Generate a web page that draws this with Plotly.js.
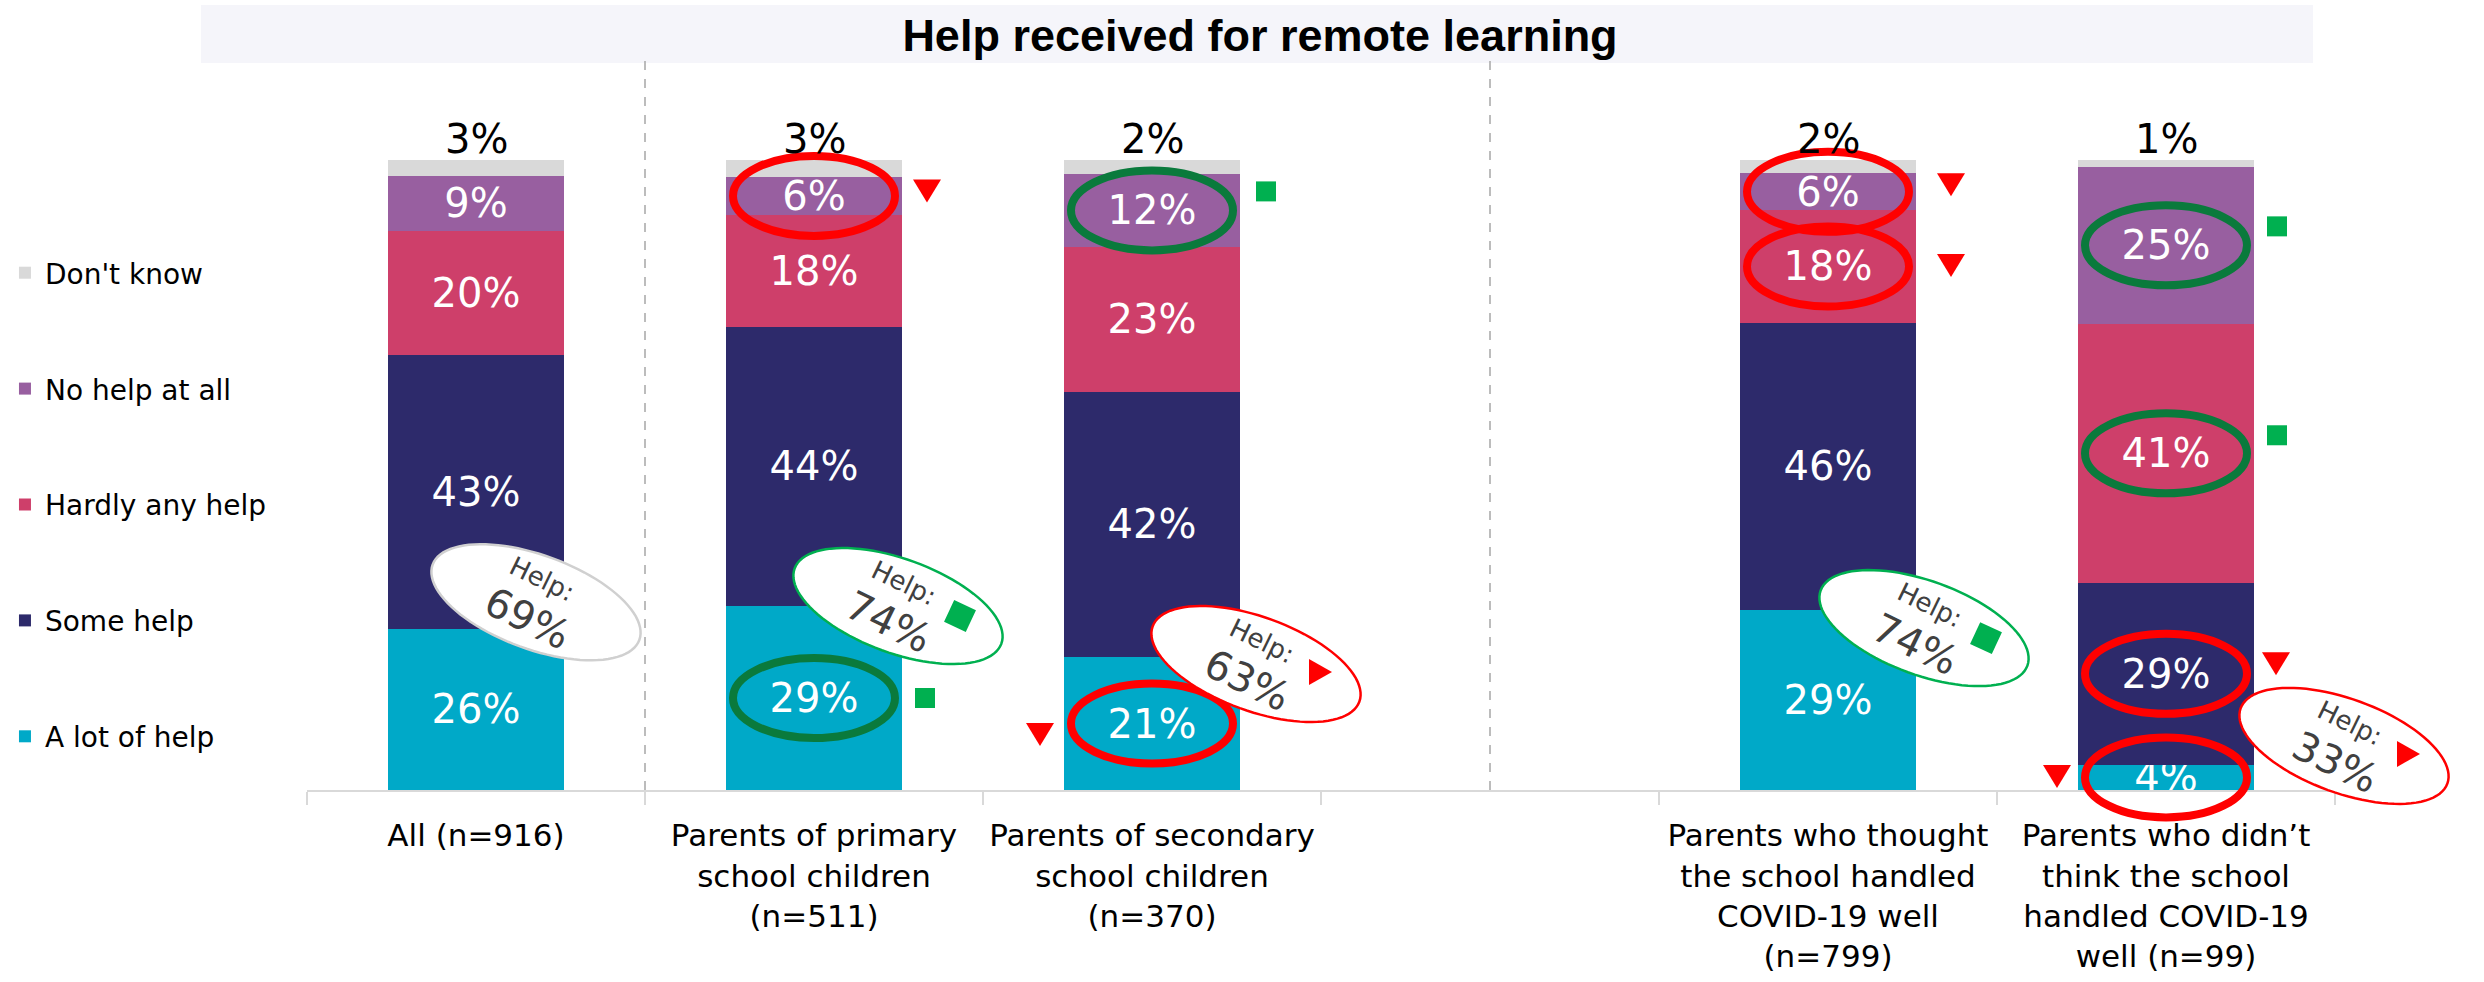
<!DOCTYPE html>
<html><head><meta charset="utf-8">
<script src="https://cdn.plot.ly/plotly-3.0.1.min.js"></script>
<style>html,body{margin:0;padding:0;background:#fff}#chart{width:2484px;height:982px}</style>
</head><body><div id="chart"></div>
<script>
// ---------------- DATA ----------------
const categories = [
  "All (n=916)",
  "Parents of primary<br>school children<br>(n=511)",
  "Parents of secondary<br>school children<br>(n=370)",
  " ",
  "Parents who thought<br>the school handled<br>COVID-19 well<br>(n=799)",
  "Parents who didn’t<br>think the school<br>handled COVID-19<br>well (n=99)"
];
const seriesNames = ["A lot of help", "Some help", "Hardly any help", "No help at all", "Don't know"];
const aLotOfHelp    = [25.6, 29.2, 21.1, null, 28.6, 4.0];
const someHelp      = [43.4, 44.3, 42.1, null, 45.6, 28.9];
const hardlyAnyHelp = [19.8, 17.8, 23.0, null, 17.8, 41.1];
const noHelpAtAll   = [8.6, 6.0, 11.6, null, 5.9, 24.9];
const dontKnow      = [2.6, 2.7, 2.2, null, 2.1, 1.1];

// "Help" (a lot + some) totals shown in the ellipses
const helpCats   = [0, 1, 2, 4, 5];
const helpTotals = [69, 74, 63, 74, 33];
const helpSig    = ["none", "higher", "lower", "higher", "lower"];

// significance flags (circled values)
const sigCat    = [1, 1, 2, 2, 4, 4, 5, 5, 5, 5];
const sigSeries = ["No help at all", "A lot of help", "No help at all", "A lot of help",
                   "No help at all", "Hardly any help", "No help at all", "Hardly any help",
                   "Some help", "A lot of help"];
const sigDir    = ["lower", "higher", "higher", "lower", "lower", "lower", "higher", "higher", "lower", "lower"];

// ---------------- PLACEMENT / STYLE ----------------
const seriesColors = ["#00A9C8", "#2D2A6B", "#CE3F6A", "#985FA0", "#D9D9D9"];
const helpDx    = [60, 84, 104, 96, 178];      // px from bar centre
const helpLevel = [29.8, 29.2, 20.0, 25.7, 7.0]; // y (axis units) of ellipse centre
const sigSide = [1, 1, 1, -1, 1, 1, 1, 1, 1, -1];
const sigDx   = [113, 111, 114, 112, 123, 123, 111, 111, 110, 109];
const sigDy   = [-5, 0, -19, 11, -7, -1, -19, -18, -10, -1];

const FONT = "'DejaVu Sans', sans-serif";
const L = 307, R = 149, T = 160, B = 192, WIDTH = 2484, HEIGHT = 982;
const W = WIDTH - L - R, H = HEIGHT - T - B;
const RED = "#FF0000", GREEN = "#00B050", DKGREEN = "#0A7A3C";
const nCat = categories.length;

const seriesValues = [aLotOfHelp, someHelp, hardlyAnyHelp, noHelpAtAll, dontKnow];

// ---------------- TRACES ----------------
const traces = seriesNames.map((name, i) => ({
  type: "bar",
  name: name,
  legendgroup: name,
  legendrank: 100 * (seriesNames.length - i),
  x: categories,
  y: seriesValues[i],
  marker: { color: seriesColors[i] },
  texttemplate: i < 4 ? "%{y:.0f}%" : "",
  textposition: i < 4 ? "inside" : "none",
  insidetextanchor: "middle",
  textangle: 0,
  constraintext: "none",
  textfont: { family: FONT, size: 40, color: "#FFFFFF" },
  hoverinfo: "skip"
}));

// ---------------- helpers ----------------
const catX = c => (c + 0.5) / nCat;          // paper x of bar centre
const valY = v => v / 100;                    // paper y of value (range 0..100)
function ellipsePath(cx, cy, a, b, thDeg) {
  const th = thDeg * Math.PI / 180;
  let p = "";
  for (let k = 0; k < 96; k++) {
    const f = 2 * Math.PI * k / 96;
    const x = a * Math.cos(f), y = b * Math.sin(f);
    const xr = x * Math.cos(th) - y * Math.sin(th);
    const yr = x * Math.sin(th) + y * Math.cos(th);
    p += (k ? "L" : "M") + (cx + xr / W).toFixed(5) + "," + (cy - yr / H).toFixed(5);
  }
  return p + "Z";
}
function polyPath(cx, cy, pts, thDeg) {
  const th = (thDeg || 0) * Math.PI / 180;
  return pts.map((q, k) => {
    const xr = q[0] * Math.cos(th) - q[1] * Math.sin(th);
    const yr = q[0] * Math.sin(th) + q[1] * Math.cos(th);
    return (k ? "L" : "M") + (cx + xr / W).toFixed(5) + "," + (cy - yr / H).toFixed(5);
  }).join("") + "Z";
}
const TRI_DOWN = [[-14, -11.5], [14, -11.5], [0, 11.5]];
const SQUARE = [[-10, -10], [10, -10], [10, 10], [-10, 10]];
const SQUARE_BIG = [[-12, -12], [12, -12], [12, 12], [-12, 12]];
const TRI_RIGHT = [[-11, -13], [12, 0], [-11, 13]];

const shapes = [];
const annotations = [];

// title band
shapes.push({ type: "rect", xref: "paper", yref: "paper", layer: "below",
  x0: (201 - L) / W, x1: (2313 - L) / W, y0: (T + H - 63) / H, y1: (T + H - 5) / H,
  fillcolor: "#F5F5FA", line: { width: 0 } });

// dashed separators
[0.5, 3].forEach(pos => shapes.push({ type: "line", xref: "paper", yref: "paper", layer: "below",
  x0: (pos + 0.5) / nCat, x1: (pos + 0.5) / nCat, y0: 0, y1: (T + H - 58) / H,
  line: { color: "#A6A6A6", width: 1.5, dash: "dash" } }));

// top labels (Don't know)
categories.forEach((c, i) => {
  if (dontKnow[i] == null) return;
  const total = seriesValues.reduce((s, arr) => s + arr[i], 0);
  annotations.push({ x: c, y: total, xref: "x", yref: "y", showarrow: false,
    text: Math.round(dontKnow[i]) + "%", yanchor: "middle", yshift: 21,
    font: { family: FONT, size: 40, color: "#000000" } });
});

// circled significant values + markers
sigCat.forEach((c, k) => {
  const s = seriesNames.indexOf(sigSeries[k]);
  let below = 0;
  for (let j = 0; j < s; j++) below += seriesValues[j][c];
  const mid = below + seriesValues[s][c] / 2;
  const cx = catX(c), cy = valY(mid);
  const up = sigDir[k] === "higher";
  shapes.push({ type: "circle", xref: "paper", yref: "paper",
    x0: cx - 81 / W, x1: cx + 81 / W, y0: cy - 40 / H, y1: cy + 40 / H,
    line: { color: up ? DKGREEN : RED, width: 8 } });
  const mx = cx + sigSide[k] * sigDx[k] / W, my = cy - sigDy[k] / H;
  shapes.push({ type: "path", xref: "paper", yref: "paper",
    path: polyPath(mx, my, up ? SQUARE : TRI_DOWN, 0),
    fillcolor: up ? GREEN : RED, line: { width: 0 } });
});

// Help ellipses
helpCats.forEach((c, k) => {
  const cx = catX(c) + helpDx[k] / W, cy = valY(helpLevel[k]);
  const col = helpSig[k] === "higher" ? GREEN : helpSig[k] === "lower" ? RED : "#D0D0D0";
  shapes.push({ type: "path", xref: "paper", yref: "paper",
    path: ellipsePath(cx, cy, 110, 47, 20),
    fillcolor: "#FFFFFF", line: { color: col, width: 2.5 } });
  if (helpSig[k] === "higher") {
    shapes.push({ type: "path", xref: "paper", yref: "paper",
      path: polyPath(cx + 62 / W, cy - 10 / H, SQUARE_BIG, 25), fillcolor: GREEN, line: { width: 0 } });
  } else if (helpSig[k] === "lower") {
    shapes.push({ type: "path", xref: "paper", yref: "paper",
      path: polyPath(cx + 64 / W, cy - 8 / H, TRI_RIGHT, 0), fillcolor: RED, line: { width: 0 } });
  }
  annotations.push({ xref: "paper", yref: "paper", x: cx + 6 / W, y: cy + 23 / H,
    text: "Help:", showarrow: false, textangle: 26, xanchor: "center", yanchor: "middle",
    font: { family: FONT, size: 26, color: "#404040" } });
  annotations.push({ xref: "paper", yref: "paper", x: cx - 9 / W, y: cy - 16 / H,
    text: helpTotals[k] + "%", showarrow: false, textangle: 26, xanchor: "center", yanchor: "middle",
    font: { family: FONT, size: 40, color: "#404040" } });
});

const layout = {
  width: WIDTH, height: HEIGHT,
  margin: { l: L, r: R, t: T, b: B, autoexpand: false },
  paper_bgcolor: "#FFFFFF", plot_bgcolor: "#FFFFFF",
  barmode: "stack", bargap: 0.477,
  hovermode: false,
  title: { text: "<b>Help received for remote learning</b>",
    font: { family: "'Liberation Sans', Arial, sans-serif", size: 45, color: "#000000" },
    x: 1260 / WIDTH, xref: "container", xanchor: "center",
    y: 1 - 35 / HEIGHT, yref: "container", yanchor: "middle" },
  xaxis: { type: "category", categoryorder: "array", categoryarray: categories,
    range: [-0.5, nCat - 0.5], fixedrange: true,
    showline: true, linecolor: "#D9D9D9", linewidth: 2,
    ticks: "outside", tickson: "boundaries", ticklen: 13, tickcolor: "#D9D9D9", tickwidth: 2,
    tickangle: 0, ticklabelstandoff: 17,
    tickfont: { family: FONT, size: 31, color: "#000000" }, showgrid: false, zeroline: false },
  yaxis: { range: [0, 100], visible: false, fixedrange: true, showgrid: false, zeroline: false },
  showlegend: true,
  legend: { xref: "container", yref: "container", x: 0.002, y: 1 - 248 / HEIGHT,
    xanchor: "left", yanchor: "top", traceorder: "grouped", tracegroupgap: 76.5,
    maxheight: 900,
    font: { family: FONT, size: 28, color: "#000000" }, bgcolor: "rgba(0,0,0,0)" },
  shapes: shapes,
  annotations: annotations
};

Plotly.newPlot("chart", traces, layout, { displayModeBar: false, staticPlot: true });
</script>
</body></html>
